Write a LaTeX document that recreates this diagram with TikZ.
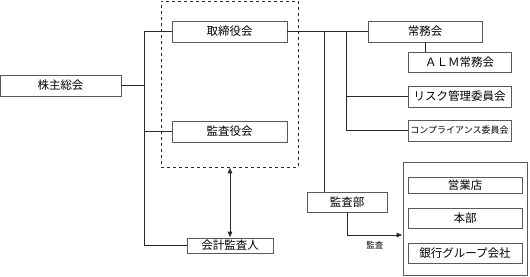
\documentclass[tikz,border=0pt]{standalone}
\usepackage{fontspec}
\newfontfamily\jpfont{Noto Sans CJK JP}
\usepackage{tikz}
\usetikzlibrary{arrows.meta,positioning,calc}
\definecolor{orgline}{RGB}{40,40,40}
\definecolor{orgbox}{RGB}{90,90,90}

\begin{document}
\begin{tikzpicture}[
  x=1pt, y=-1pt,
  every node/.style = {font=\jpfont\fontsize{11.5}{13}\selectfont},
  org/.style   = {draw=orgbox, fill=white, line width=0.7pt, inner sep=0pt,
                  minimum height=21pt, align=center},
  sub/.style   = {org, minimum width=103pt},
  unit/.style  = {org, minimum width=114pt},
  link/.style  = {draw=orgline, line width=0.7pt},
  small/.style = {font=\jpfont\fontsize{8.5}{10}\selectfont},
]
\useasboundingbox (0,0) rectangle (530,276);

%% ── Bus positions ─────────────────────────────────────────────────────────────
\coordinate (lbus)  at (144,0);  % shareholders bus
\coordinate (rbusA) at (324,0);  % to audit dept
\coordinate (rbusB) at (346,0);  % to committees

%% ── Officers (dashed frame) ──────────────────────────────────────────────────
\node[draw=orgline, dashed, line width=0.6pt, minimum width=137pt,
      minimum height=166pt, inner sep=0pt] (officers) at (229.5,84) {};
\node[org, minimum width=115pt] (board)  at (229.5,31.5)  {取締役会};
\node[org, minimum width=115pt] (kansa)  at (229.5,131.5) {監査役会};

%% ── Left side ────────────────────────────────────────────────────────────────
\node[org, minimum width=121pt] (meeting) at (60.5,85.5) {株主総会};
\node[org, minimum width=86pt, minimum height=15pt] (auditor) at (230,245.5) {会計監査人};

%% ── Right side ───────────────────────────────────────────────────────────────
\node[org, minimum width=114pt] (jomu) at (425,31.5) {常務会};
\node[sub, minimum height=20pt] (alm)  at (459.5,62)  {ＡＬＭ常務会};
\node[sub] (risk) at (459.5,96.5)  {リスク管理委員会};
\node[sub, font=\jpfont\fontsize{9}{10}\selectfont] (comp) at (459.5,130.5) {コンプライアンス委員会};
\node[org, minimum width=80pt, minimum height=20pt] (auditdept) at (347,202) {監査部};

%% ── Audited units ────────────────────────────────────────────────────────────
\node[draw=orgbox, line width=0.7pt, minimum width=124pt, minimum height=113pt,
      inner sep=0pt] (units) at (465,218.5) {};
\node[unit, minimum height=16pt] (branch) at (465,185) {営業店};
\node[unit, minimum height=20pt] (hq)     at (465,218) {本部};
\node[unit, minimum height=20pt] (group)  at (465,253) {銀行グループ会社};

%% ── Connectors ───────────────────────────────────────────────────────────────
\draw[link] (board.west) -- (board.west -| lbus) -- (auditor.west -| lbus) -- (auditor.west);
\draw[link] (meeting.east) -- (meeting.east -| lbus);
\draw[link] (kansa.west) -- (kansa.west -| lbus);
\draw[link, {Latex[length=6pt,width=5pt]}-{Latex[length=6pt,width=5pt]}]
  (officers.south -| auditor.north) -- (auditor.north);

\draw[link] (board.east) -- (jomu.west);
\draw[link] (jomu.south) -- (jomu.south |- alm.north);
\draw[link] (rbusA |- board.east) -- (rbusA |- auditdept.north);
\draw[link] (rbusB |- board.east) -- (rbusB |- comp.west) -- (comp.west);
\draw[link] (risk.west -| rbusB) -- (risk.west);
\draw[link, -{Latex[length=6pt,width=5pt]}]
  (auditdept.south) |- ([yshift=-16.5pt]units.west)
  node[pos=0.75, below=3pt, small] (auditlbl) {監査};

\end{tikzpicture}
\end{document}
